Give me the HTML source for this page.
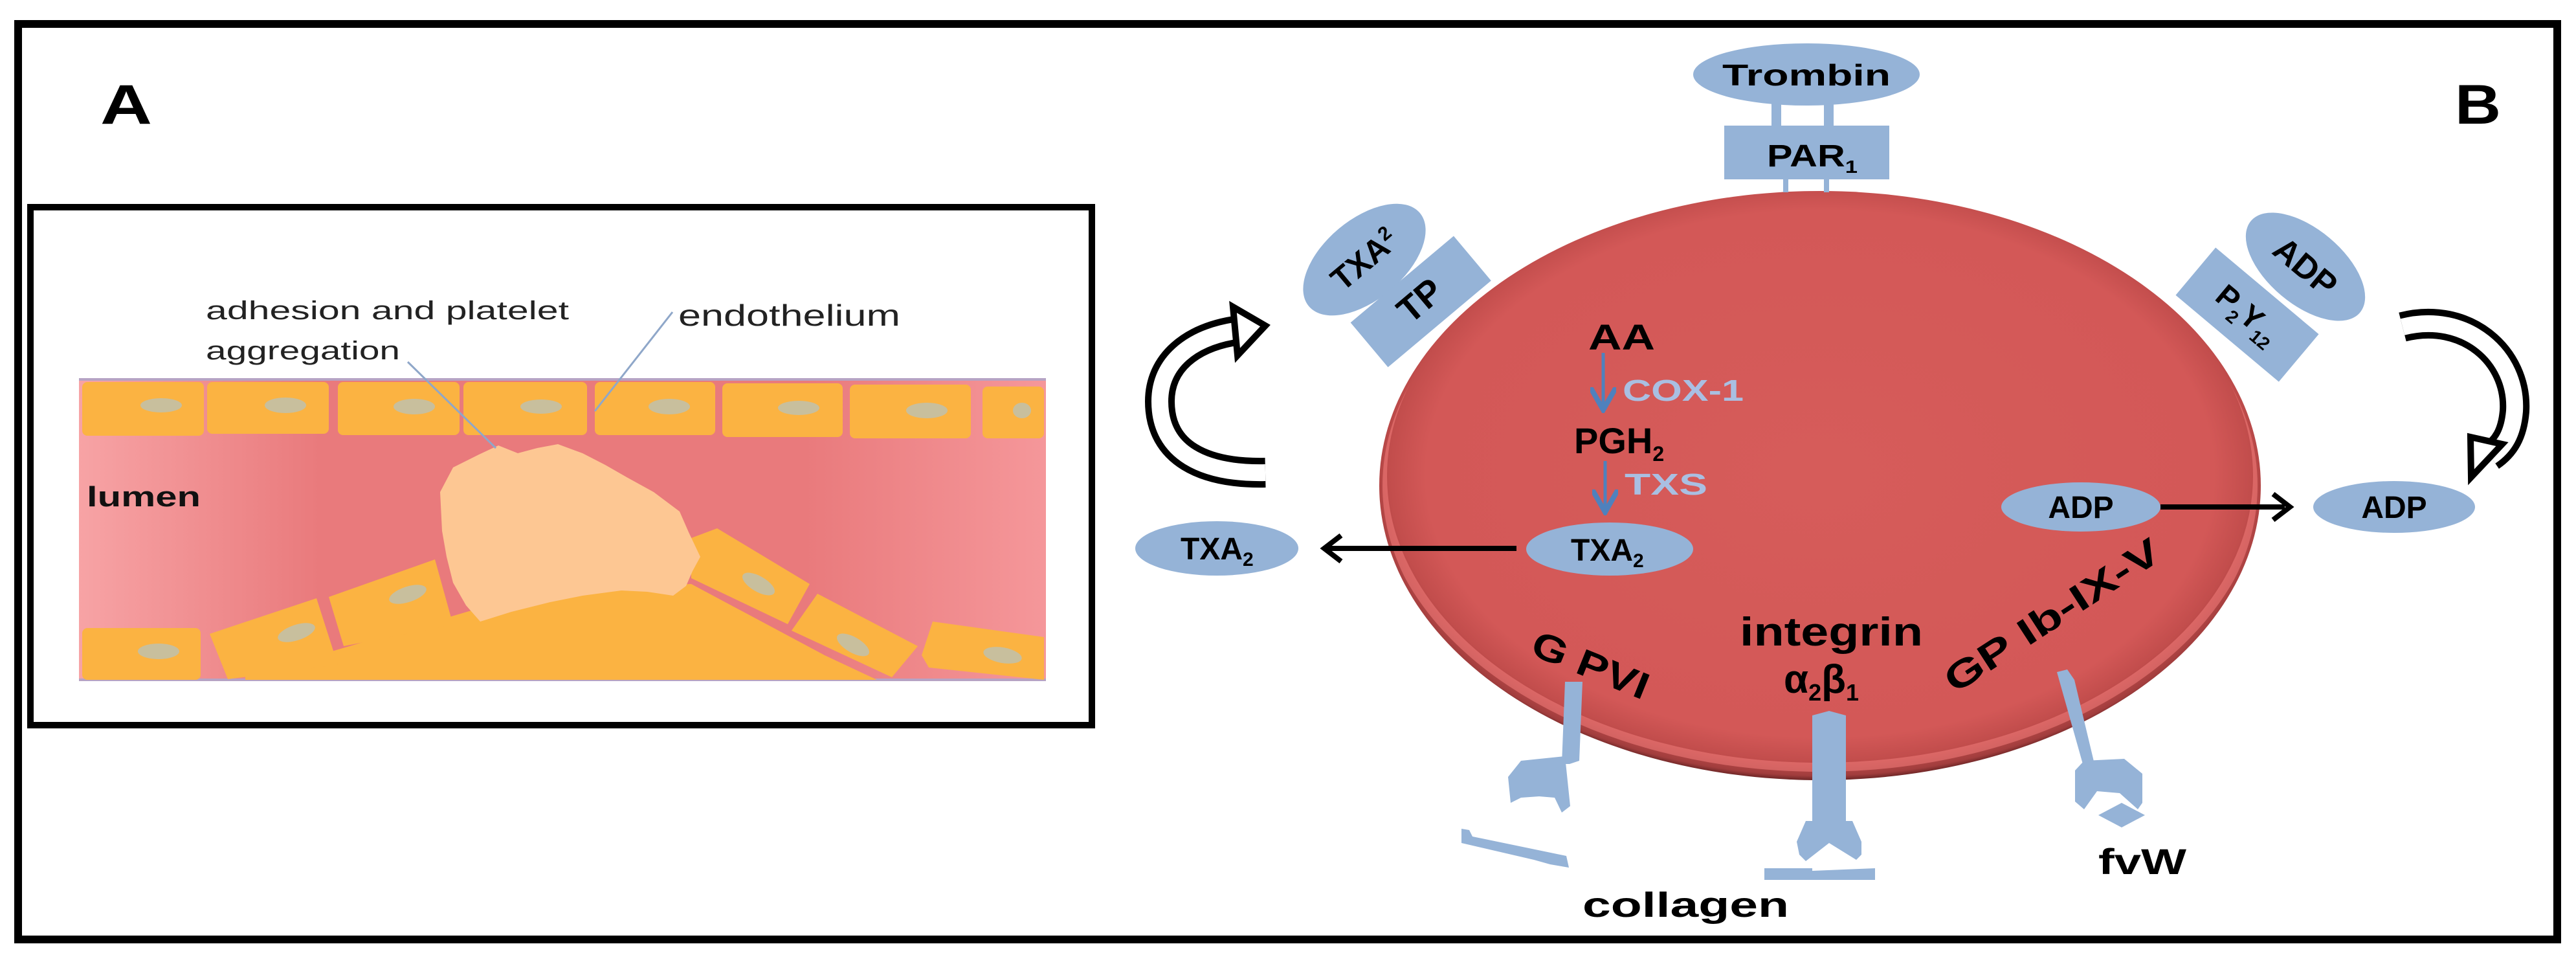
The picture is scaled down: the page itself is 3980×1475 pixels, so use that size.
<!DOCTYPE html>
<html><head><meta charset="utf-8"><style>
html,body{margin:0;padding:0;background:#fff;}
svg{display:block;}
text{font-family:"Liberation Sans",Arial,sans-serif;}
</style></head><body>
<svg width="3980" height="1475" viewBox="0 0 3980 1475" xmlns="http://www.w3.org/2000/svg">
<defs>
<linearGradient id="lum" x1="0" y1="0" x2="1" y2="0">
<stop offset="0" stop-color="#f7a3a5"/><stop offset="0.25" stop-color="#e97a7c"/><stop offset="0.75" stop-color="#e97a7c"/><stop offset="1" stop-color="#f5979a"/>
</linearGradient>
<radialGradient id="rbc" cx="0.5" cy="0.48" r="0.52">
<stop offset="0" stop-color="#d65c5a"/><stop offset="0.86" stop-color="#d35857"/><stop offset="0.94" stop-color="#c24d4c"/><stop offset="0.985" stop-color="#a13d3d"/><stop offset="1" stop-color="#6e2626"/>
</radialGradient>
<clipPath id="cc"><ellipse cx="2812" cy="750" rx="676" ry="450"/></clipPath>
<marker id="bh" markerWidth="8" markerHeight="8" refX="6" refY="4" orient="auto" markerUnits="strokeWidth">
<path d="M0,0 L7,4 L0,8" fill="none" stroke="#4f81bd" stroke-width="1.6"/>
</marker>
</defs>

<rect x="28" y="37" width="3923" height="1414" fill="none" stroke="#000" stroke-width="12"/>

<text x="155" y="191" font-size="86" font-weight="bold" textLength="80" lengthAdjust="spacingAndGlyphs">A</text>
<rect x="47" y="320" width="1640" height="800" fill="none" stroke="#000" stroke-width="10"/>

<rect x="122" y="585" width="1494" height="465" fill="url(#lum)"/>
<line x1="122" y1="586" x2="1616" y2="586" stroke="#b6a3c4" stroke-width="4"/>
<line x1="122" y1="1050" x2="1616" y2="1050" stroke="#b6a3c4" stroke-width="4"/>
<g fill="#fbb342">
<rect x="127" y="590" width="188" height="83" rx="8"/>
<rect x="320" y="590" width="188" height="80" rx="8"/>
<rect x="522" y="590" width="188" height="82" rx="8"/>
<rect x="716" y="590" width="191" height="82" rx="8"/>
<rect x="919" y="590" width="186" height="82" rx="8"/>
<rect x="1116" y="592" width="186" height="83" rx="8"/>
<rect x="1313" y="594" width="187" height="83" rx="8"/>
<rect x="1518" y="597" width="95" height="80" rx="8"/>
<rect x="127" y="970" width="183" height="80" rx="8"/>
<polygon points="379,1045 735,941 918,907 1068,902 1274,1012 1355,1050 379,1050"/>
<polygon points="324,979 489,924 522,1027 352,1049"/>
<polygon points="508,922 672,864 700,965 531,998"/>
<polygon points="1068,831 1108,816 1251,902 1217,964 1068,893"/>
<polygon points="1223,974 1263,917 1418,998 1378,1046"/>
<polygon points="1424,1012 1441,960 1613,984 1613,1050 1435,1031"/>
</g>
<g fill="#c8bf9d">
<ellipse cx="249" cy="626" rx="32" ry="11"/><ellipse cx="441" cy="626" rx="32" ry="12"/>
<ellipse cx="640" cy="628" rx="32" ry="12"/><ellipse cx="836" cy="628" rx="32" ry="11"/>
<ellipse cx="1034" cy="628" rx="32" ry="12"/><ellipse cx="1234" cy="630" rx="32" ry="11"/>
<ellipse cx="1432" cy="634" rx="32" ry="12"/><ellipse cx="1579" cy="634" rx="14" ry="12"/>
<ellipse cx="245" cy="1006" rx="32" ry="12"/>
<ellipse cx="458" cy="977" rx="30" ry="12" transform="rotate(-18 458 977)"/>
<ellipse cx="630" cy="918" rx="30" ry="12" transform="rotate(-18 630 918)"/>
<ellipse cx="1172" cy="902" rx="28" ry="12" transform="rotate(30 1172 902)"/>
<ellipse cx="1318" cy="996" rx="28" ry="12" transform="rotate(30 1318 996)"/>
<ellipse cx="1549" cy="1012" rx="30" ry="12" transform="rotate(10 1549 1012)"/>
</g>
<polygon fill="#fdc793" points="680,760 700,722 740,702 770,688 800,700 830,692 862,686 900,700 935,718 970,738 1010,760 1050,790 1064,822 1082,860 1070,882 1060,905 1040,920 1000,914 960,912 900,920 850,930 790,945 742,960 720,935 700,900 690,860 683,820"/>
<g stroke="#8fa7c9" stroke-width="3" fill="none">
<line x1="630" y1="559" x2="766" y2="692"/>
<line x1="1039" y1="482" x2="919" y2="635"/>
</g>
<text x="318" y="493" font-size="40" fill="#222" textLength="561" lengthAdjust="spacingAndGlyphs">adhesion and platelet</text>
<text x="318" y="555" font-size="40" fill="#222" textLength="300" lengthAdjust="spacingAndGlyphs">aggregation</text>
<text x="1048" y="503" font-size="46" fill="#222" textLength="343" lengthAdjust="spacingAndGlyphs">endothelium</text>
<text x="134" y="782" font-size="44" font-weight="bold" fill="#111" textLength="176" lengthAdjust="spacingAndGlyphs">lumen</text>

<text x="3793" y="191" font-size="86" font-weight="bold" textLength="71" lengthAdjust="spacingAndGlyphs">B</text>

<ellipse cx="2812" cy="750" rx="681" ry="455" fill="url(#rbc)"/>
<g clip-path="url(#cc)">
<ellipse cx="2812" cy="735" rx="676" ry="450" fill="none" stroke="#ee7a78" stroke-width="14" opacity="0.6"/>
</g>

<g fill="#95b3d7">
<ellipse cx="2791" cy="115" rx="175" ry="48"/>
<rect x="2737" y="160" width="15" height="40"/>
<rect x="2818" y="160" width="15" height="40"/>
<rect x="2664" y="194" width="255" height="83"/>
<rect x="2755" y="277" width="8" height="20"/>
<rect x="2818" y="277" width="8" height="20"/>
</g>
<text x="2791" y="132" font-size="46" font-weight="bold" text-anchor="middle" textLength="260" lengthAdjust="spacingAndGlyphs">Trombin</text>
<text x="2730" y="257" font-size="48" font-weight="bold" textLength="140" lengthAdjust="spacingAndGlyphs">PAR<tspan font-size="28" dy="10">1</tspan></text>

<g transform="translate(2108 401) rotate(-40)">
<ellipse cx="0" cy="0" rx="112" ry="62" fill="#95b3d7"/>
<text x="0" y="17" font-size="50" font-weight="bold" text-anchor="middle">TXA<tspan font-size="30" dy="-18">2</tspan></text>
</g>
<g transform="translate(2192 462) rotate(-40)">
<rect x="-104" y="-40" width="208" height="90" fill="#95b3d7"/>
<text x="0" y="22" font-size="56" font-weight="bold" text-anchor="middle">TP</text>
</g>

<g transform="translate(3472 486) rotate(40)">
<rect x="-104" y="-48" width="208" height="96" fill="#95b3d7"/>
<text x="0" y="15" font-size="48" font-weight="bold" text-anchor="middle">P<tspan font-size="28" dy="12">2</tspan><tspan dy="-12">Y</tspan><tspan font-size="28" dy="12">12</tspan></text>
</g>
<g transform="translate(3562 412) rotate(40)">
<ellipse cx="0" cy="0" rx="110" ry="58" fill="#95b3d7"/>
<text x="0" y="18" font-size="52" font-weight="bold" text-anchor="middle">ADP</text>
</g>

<g fill="none" stroke-linejoin="miter">
<path d="M1955,730 C1860,732 1792,700 1792,620 C1792,560 1840,522 1908,511" stroke="#000" stroke-width="46"/>
<path d="M1955,730 C1860,732 1792,700 1792,620 C1792,560 1840,522 1908,511" stroke="#fff" stroke-width="26"/>
<polygon points="1905,474 1955,503 1912,549" fill="#fff" stroke="#000" stroke-width="10"/>
<path d="M3712,505 C3810,480 3890,550 3885,635 C3882,670 3870,690 3848,705" stroke="#000" stroke-width="46"/>
<path d="M3712,505 C3810,480 3890,550 3885,635 C3882,670 3870,690 3848,705" stroke="#fff" stroke-width="26"/>
<polygon points="3866,686 3818,737 3817,675" fill="#fff" stroke="#000" stroke-width="10"/>
</g>

<text x="2454" y="540" font-size="56" font-weight="bold" textLength="103" lengthAdjust="spacingAndGlyphs">AA</text>
<line x1="2477" y1="545" x2="2477" y2="628" stroke="#4f81bd" stroke-width="5" marker-end="url(#bh)"/>
<text x="2507" y="619" font-size="46" font-weight="bold" fill="#a9bfe2" textLength="187" lengthAdjust="spacingAndGlyphs">COX-1</text>
<text x="2432" y="700" font-size="56" font-weight="bold">PGH<tspan font-size="32" dy="12">2</tspan></text>
<line x1="2480" y1="712" x2="2480" y2="786" stroke="#4f81bd" stroke-width="5" marker-end="url(#bh)"/>
<text x="2510" y="764" font-size="46" font-weight="bold" fill="#a9bfe2" textLength="128" lengthAdjust="spacingAndGlyphs">TXS</text>

<ellipse cx="2487" cy="848" rx="129" ry="41" fill="#95b3d7"/>
<text x="2427" y="866" font-size="48" font-weight="bold">TXA<tspan font-size="30" dy="10">2</tspan></text>
<line x1="2343" y1="847" x2="2050" y2="847" stroke="#000" stroke-width="8"/>
<path d="M2072,827 L2046,847 L2072,867" fill="none" stroke="#000" stroke-width="8"/>
<ellipse cx="1880" cy="847" rx="126" ry="42" fill="#95b3d7"/>
<text x="1824" y="864" font-size="48" font-weight="bold">TXA<tspan font-size="30" dy="10">2</tspan></text>

<ellipse cx="3215" cy="783" rx="123" ry="38" fill="#95b3d7"/>
<text x="3215" y="800" font-size="48" font-weight="bold" text-anchor="middle">ADP</text>
<line x1="3338" y1="783" x2="3530" y2="783" stroke="#000" stroke-width="8"/>
<path d="M3512,763 L3538,783 L3512,803" fill="none" stroke="#000" stroke-width="8"/>
<ellipse cx="3699" cy="783" rx="125" ry="40" fill="#95b3d7"/>
<text x="3699" y="800" font-size="48" font-weight="bold" text-anchor="middle">ADP</text>

<text transform="translate(2362 1010) rotate(22)" font-size="58" font-weight="bold" textLength="190" lengthAdjust="spacingAndGlyphs">G PVI</text>
<text x="2688" y="997" font-size="62" font-weight="bold" textLength="283" lengthAdjust="spacingAndGlyphs">integrin</text>
<text x="2756" y="1070" font-size="62" font-weight="bold">α<tspan font-size="36" dy="12">2</tspan><tspan dy="-12">β</tspan><tspan font-size="36" dy="12">1</tspan></text>
<text transform="translate(3020 1072) rotate(-33)" font-size="58" font-weight="bold" textLength="385" lengthAdjust="spacingAndGlyphs">GP Ib-IX-V</text>

<g fill="#95b3d7">
<polygon points="2418,1053 2445,1053 2440,1175 2425,1180 2413,1180"/>
<polygon points="2330,1200 2350,1175 2418,1168 2426,1245 2413,1255 2402,1232 2378,1230 2350,1232 2334,1240"/>
<rect x="2800" y="1105" width="52" height="170"/>
<polygon points="2800,1105 2826,1098 2852,1105"/>
<polygon points="2776,1300 2790,1268 2862,1268 2876,1300 2876,1320 2868,1328 2826,1302 2790,1330 2780,1320"/>
<polygon points="2726,1341 2800,1341 2800,1345 2897,1341 2897,1359 2726,1359"/>
<polygon points="2258,1280 2270,1282 2275,1292 2420,1322 2424,1340 2395,1335 2370,1328 2258,1302"/>
<polygon points="3178,1038 3194,1034 3205,1050 3236,1180 3218,1180"/>
<polygon points="3206,1190 3220,1175 3282,1172 3310,1195 3310,1240 3303,1250 3275,1225 3240,1222 3220,1250 3206,1238"/>
<polygon points="3278,1240 3314,1259 3278,1278 3242,1259"/>
</g>
<text x="2445" y="1416" font-size="54" font-weight="bold" textLength="319" lengthAdjust="spacingAndGlyphs">collagen</text>
<text x="3242" y="1350" font-size="56" font-weight="bold" textLength="136" lengthAdjust="spacingAndGlyphs">fvW</text>
</svg>
</body></html>
